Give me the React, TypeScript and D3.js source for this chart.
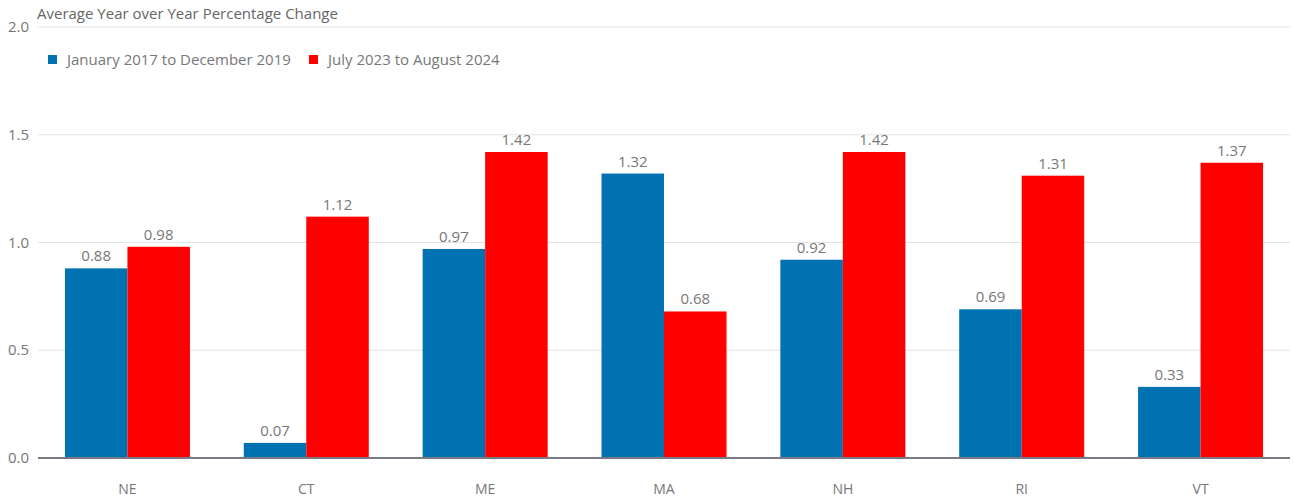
import React from "react";
import * as d3 from "d3";

const categories = ["NE", "CT", "ME", "MA", "NH", "RI", "VT"];
const seriesNames = ["January 2017 to December 2019", "July 2023 to August 2024"];
const series2017 = [0.88, 0.07, 0.97, 1.32, 0.92, 0.69, 0.33];
const series2023 = [0.98, 1.12, 1.42, 0.68, 1.42, 1.31, 1.37];
const yTicks = [0, 0.5, 1.0, 1.5, 2.0];
const colors = ["#0072b2", "#ff0000"];

export default function App() {
  const W = 1293, H = 499;
  const left = 38, right = 1290, top = 27, bottom = 458;
  const x0 = d3.scaleBand<string>().domain(categories).range([left, right]);
  const y = d3.scaleLinear().domain([0, 2]).range([bottom, top]);
  const inner = d3.scaleBand<number>().domain([0, 1]).range([0, 125]);
  const all = [series2017, series2023];
  const font = "'Open Sans', sans-serif";
  const gray = "#777";
  return (
    <svg width={W} height={H} style={{ position: "absolute", left: 0, top: 0 }} fontFamily={font}>
      <text x={37} y={19} fontSize={15} fill="#666">Average Year over Year Percentage Change</text>
      {yTicks.map((t) => (
        <g key={t}>
          {t > 0 && <line x1={left} x2={right} y1={y(t)} y2={y(t)} stroke="#e3e3e3" strokeWidth={1} />}
          <text x={29} y={y(t) + 5} fontSize={15} fill={gray} textAnchor="end">{t.toFixed(1)}</text>
        </g>
      ))}
      <g>
        {seriesNames.map((n, i) => {
          const lx = i === 0 ? 48 : 309;
          return (
            <g key={n}>
              <rect x={lx} y={55} width={9} height={9} fill={colors[i]} />
              <text x={lx + 19} y={65} fontSize={15} fill={gray}>{n}</text>
            </g>
          );
        })}
      </g>
      {categories.map((c) => {
        const gx = (x0(c) as number) + x0.bandwidth() / 2 - 62.5;
        return (
          <g key={c}>
            {all.map((s, i) => {
              const v = s[categories.indexOf(c)];
              const bx = gx + (inner(i) as number);
              const bw = inner.bandwidth();
              return (
                <g key={i}>
                  <rect x={bx} y={y(v)} width={bw} height={bottom - y(v)} fill={colors[i]} />
                  <text x={bx + bw / 2} y={y(v) - 7} fontSize={15} fill={gray} textAnchor="middle">{v.toFixed(2)}</text>
                </g>
              );
            })}
            <text x={(x0(c) as number) + x0.bandwidth() / 2} y={494} fontSize={14} fill={gray} textAnchor="middle">{c}</text>
          </g>
        );
      })}
      <line x1={left} x2={right} y1={bottom} y2={bottom} stroke="#7a7a85" strokeWidth={2} />
    </svg>
  );
}
